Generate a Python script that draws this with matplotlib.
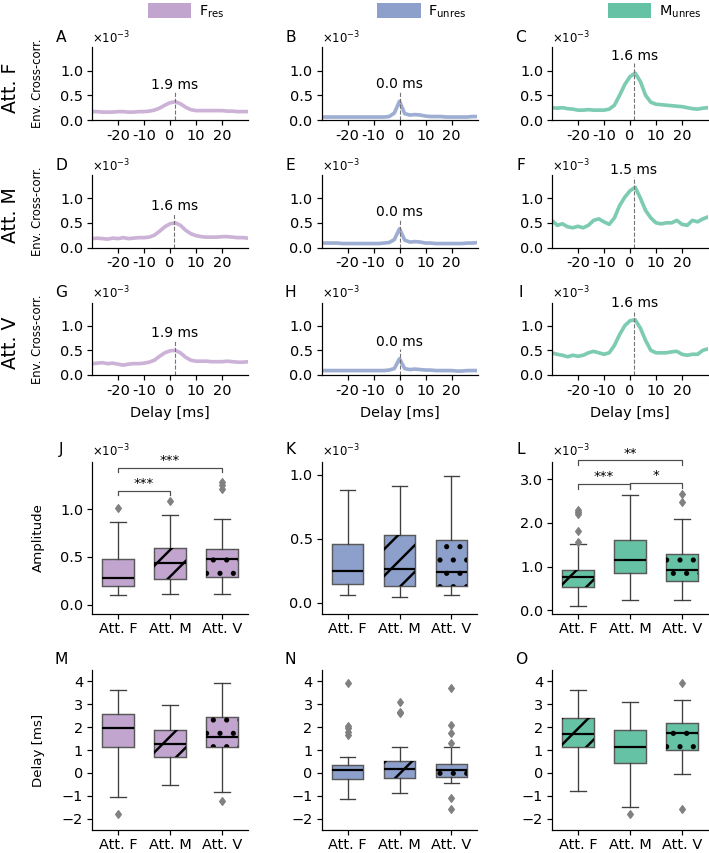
import numpy as np
import matplotlib
matplotlib.use("Agg")
import matplotlib.pyplot as plt
from matplotlib.patches import Patch, PathPatch
from matplotlib.ticker import FormatStrFormatter

# ---------------- data ----------------
voices = [r"F$_{\mathrm{res}}$", r"F$_{\mathrm{unres}}$", r"M$_{\mathrm{unres}}$"]
colors = ["#c2a5cf", "#8da0cb", "#66c2a5"]
attention = ["Att. F", "Att. M", "Att. V"]

delays = [-30, -28, -26, -24, -22, -20, -18, -16, -14, -12, -10, -8, -6, -4, -2,
          0, 2, 4, 6, 8, 10, 12, 14, 16, 18, 20, 22, 24, 26, 28, 30]
delay_ticks = [-20, -10, 0, 10, 20]
delay_ticklabels = ["-20", "-10", "0", "10", "20"]

# envelope cross-correlation (x1e-3), one list per attention condition
xcorr_fres = [
    [0.17, 0.17, 0.16, 0.16, 0.16, 0.17, 0.17, 0.16, 0.16, 0.17, 0.17, 0.18, 0.20, 0.24, 0.30,
     0.35, 0.37, 0.33, 0.26, 0.21, 0.19, 0.19, 0.19, 0.19, 0.19, 0.19, 0.18, 0.18, 0.17, 0.17, 0.17],
    [0.18, 0.19, 0.18, 0.17, 0.19, 0.18, 0.20, 0.18, 0.19, 0.20, 0.20, 0.21, 0.25, 0.33, 0.42,
     0.48, 0.50, 0.45, 0.35, 0.28, 0.24, 0.22, 0.21, 0.21, 0.21, 0.22, 0.22, 0.21, 0.20, 0.20, 0.19],
    [0.23, 0.24, 0.25, 0.23, 0.24, 0.22, 0.20, 0.22, 0.23, 0.23, 0.24, 0.26, 0.30, 0.38, 0.45,
     0.49, 0.50, 0.45, 0.36, 0.30, 0.28, 0.28, 0.28, 0.27, 0.27, 0.27, 0.28, 0.27, 0.26, 0.26, 0.27],
]
xcorr_funres = [
    [0.06, 0.06, 0.06, 0.06, 0.06, 0.06, 0.06, 0.06, 0.06, 0.06, 0.06, 0.06, 0.06, 0.07, 0.14,
     0.38, 0.13, 0.10, 0.11, 0.10, 0.08, 0.07, 0.07, 0.07, 0.06, 0.06, 0.06, 0.06, 0.06, 0.07, 0.07],
    [0.09, 0.09, 0.09, 0.09, 0.08, 0.08, 0.08, 0.08, 0.08, 0.08, 0.08, 0.08, 0.09, 0.10, 0.16,
     0.38, 0.15, 0.11, 0.12, 0.11, 0.09, 0.09, 0.08, 0.08, 0.08, 0.08, 0.08, 0.08, 0.09, 0.09, 0.10],
    [0.09, 0.09, 0.09, 0.09, 0.09, 0.09, 0.09, 0.09, 0.09, 0.09, 0.09, 0.09, 0.09, 0.10, 0.13,
     0.33, 0.13, 0.11, 0.12, 0.11, 0.10, 0.10, 0.09, 0.09, 0.09, 0.09, 0.08, 0.08, 0.09, 0.09, 0.09],
]
xcorr_munres = [
    [0.25, 0.24, 0.25, 0.23, 0.22, 0.20, 0.20, 0.21, 0.20, 0.20, 0.20, 0.22, 0.30, 0.50, 0.72,
     0.88, 0.95, 0.78, 0.50, 0.36, 0.32, 0.31, 0.30, 0.29, 0.28, 0.27, 0.25, 0.23, 0.22, 0.24, 0.25],
    [0.55, 0.45, 0.48, 0.42, 0.40, 0.43, 0.40, 0.45, 0.55, 0.58, 0.52, 0.47, 0.60, 0.85, 1.02,
     1.15, 1.22, 1.00, 0.75, 0.60, 0.50, 0.48, 0.50, 0.50, 0.55, 0.47, 0.45, 0.55, 0.52, 0.58, 0.62],
    [0.45, 0.42, 0.40, 0.37, 0.40, 0.38, 0.40, 0.45, 0.48, 0.45, 0.42, 0.45, 0.60, 0.82, 1.00,
     1.10, 1.12, 0.95, 0.70, 0.50, 0.45, 0.45, 0.45, 0.47, 0.48, 0.42, 0.40, 0.42, 0.42, 0.50, 0.53],
]
peak_fres = [1.9, 1.6, 1.9]
peak_funres = [0.0, 0.0, 0.0]
peak_munres = [1.6, 1.5, 1.6]

# amplitude box stats (x1e-3), per attention condition
amp_fres = dict(whislo=[0.10, 0.11, 0.11], q1=[0.20, 0.27, 0.29], med=[0.28, 0.44, 0.48],
                q3=[0.48, 0.59, 0.58], whishi=[0.86, 0.94, 0.90],
                fliers=[[1.01], [1.08], [1.21, 1.25, 1.28]])
amp_funres = dict(whislo=[0.057, 0.044, 0.062], q1=[0.143, 0.13, 0.127], med=[0.25, 0.263, 0.242],
                  q3=[0.46, 0.526, 0.492], whishi=[0.877, 0.909, 0.987],
                  fliers=[[], [], []])
amp_munres = dict(whislo=[0.093, 0.22, 0.23], q1=[0.53, 0.85, 0.66], med=[0.76, 1.16, 0.93],
                  q3=[0.93, 1.60, 1.28], whishi=[1.51, 2.65, 2.08],
                  fliers=[[1.57, 1.82, 2.20, 2.25, 2.30], [], [2.48, 2.67]])

# delay box stats (ms)
dly_fres = dict(whislo=[-1.07, -0.51, -0.85], q1=[1.11, 0.68, 1.11], med=[1.97, 1.26, 1.58],
                q3=[2.58, 1.86, 2.46], whishi=[3.62, 2.97, 3.93],
                fliers=[[-1.81], [], [-1.24]])
dly_funres = dict(whislo=[-1.14, -0.87, -0.46], q1=[-0.27, -0.21, -0.17], med=[0.11, 0.15, 0.11],
                  q3=[0.33, 0.51, 0.40], whishi=[0.70, 1.11, 1.12],
                  fliers=[[1.65, 1.80, 1.95, 2.05, 3.93], [2.62, 2.68, 3.10],
                          [-1.57, -1.09, 1.31, 1.74, 2.10, 3.72]])
dly_munres = dict(whislo=[-0.80, -1.48, -0.06], q1=[1.11, 0.43, 0.98], med=[1.68, 1.11, 1.76],
                  q3=[2.39, 1.86, 2.16], whishi=[3.62, 3.10, 3.17],
                  fliers=[[], [-1.81], [-1.58, 3.93]])

amp_sig = [[(0, 1, "***"), (0, 2, "***")], [], [(0, 1, "***"), (1, 2, "*"), (0, 2, "**")]]
hatches = [["", "/", "."], ["", "/", "."], ["/", "", "."]]

xcorr = [xcorr_fres, xcorr_funres, xcorr_munres]
peaks = [peak_fres, peak_funres, peak_munres]
amps = [amp_fres, amp_funres, amp_munres]
dlys = [dly_fres, dly_funres, dly_munres]

# ---------------- layout ----------------
W, H, DPI = 709, 853, 80
plt.rcParams.update({
    "font.family": "DejaVu Sans",
    "axes.linewidth": 1.1,
    "xtick.major.size": 4.5, "ytick.major.size": 4.5,
    "xtick.major.width": 1.1, "ytick.major.width": 1.1,
    "xtick.labelsize": 13, "ytick.labelsize": 13,
    "hatch.linewidth": 2.2,
})
fig = plt.figure(figsize=(W / DPI, H / DPI), dpi=DPI)


def add_ax(left, top, width, height):
    ax = fig.add_axes([left / W, 1 - (top + height) / H, width / W, height / H])
    ax.spines[["top", "right"]].set_visible(False)
    return ax


def exp_label(ax):
    ax.text(0.0, 1.015, r"$\times10^{-3}$", transform=ax.transAxes,
            ha="left", va="bottom", fontsize=10.5)


col_left = [92, 321.5, 552]
ax_w = 156
line_top = [47.5, 175, 302.5]
line_h = 72.5
letters = "ABCDEFGHIJKLMNO"

for r in range(3):
    fig.text(11 / W, 1 - (line_top[r] + line_h / 2 + 4) / H, attention[r],
             rotation=90, ha="center", va="center", fontsize=17)
    for c in range(3):
        ax = add_ax(col_left[c], line_top[r], ax_w, line_h)
        y = np.array(xcorr[c][r])
        ax.plot(delays, y, color=colors[c], lw=3.3, alpha=0.85, solid_capstyle="round")
        pk = peaks[c][r]
        top = y.max() + 0.2
        ax.plot([pk, pk], [0, top], ls="--", color="0.45", lw=1)
        ax.text(pk, top, f"{pk:.1f} ms", ha="center", va="bottom", fontsize=12.5)
        ax.set_xlim(-30, 30)
        ax.set_ylim(0, 1.47)
        ax.set_xticks(delay_ticks)
        ax.set_xticklabels(delay_ticklabels)
        ax.set_yticks([0, 0.5, 1.0])
        ax.yaxis.set_major_formatter(FormatStrFormatter("%.1f"))
        exp_label(ax)
        fig.text((col_left[c] - 31) / W, 1 - (line_top[r] - 10) / H, letters[r * 3 + c],
                 ha="center", va="center", fontsize=14)
        if c == 0:
            ax.set_ylabel("Env. Cross-corr.", fontsize=10.5)
            ax.yaxis.set_label_coords(-0.31, 0.5)
        if r == 2:
            ax.set_xlabel("Delay [ms]", fontsize=13, labelpad=7)

# box plot rows
box_top = [462, 670]
box_h = [152, 160]
amp_ylims = [(-0.094, 1.49), (-0.09, 1.10), (-0.09, 3.40)]
amp_yticks = [[0, 0.5, 1.0], [0, 0.5, 1.0], [0, 1, 2, 3]]


def draw_boxes(ax, st, c):
    stats = []
    for i in range(3):
        stats.append(dict(med=st["med"][i], q1=st["q1"][i], q3=st["q3"][i],
                          whislo=st["whislo"][i], whishi=st["whishi"][i],
                          fliers=np.array(st["fliers"][i])))
    bp = ax.bxp(stats, positions=[0, 1, 2], widths=0.6, patch_artist=True,
                boxprops=dict(facecolor=colors[c], edgecolor="0.35", linewidth=1.3),
                medianprops=dict(color="black", linewidth=2),
                whiskerprops=dict(color="0.25", linewidth=1.2),
                capprops=dict(color="0.25", linewidth=1.2),
                flierprops=dict(marker="d", markerfacecolor="0.5", markeredgecolor="0.5",
                                markersize=5.5))
    for patch, h in zip(bp["boxes"], hatches[c]):
        if h:
            ax.add_patch(PathPatch(patch.get_path(), facecolor="none", edgecolor="black",
                                   linewidth=0, hatch=h, zorder=patch.get_zorder() + 0.1))
    ax.set_xlim(-0.5, 2.5)
    ax.set_xticks([0, 1, 2])
    ax.set_xticklabels(attention)
    ax.tick_params(axis="x", pad=2.5)


for c in range(3):
    # amplitude
    ax = add_ax(col_left[c], box_top[0], ax_w, box_h[0])
    st = amps[c]
    draw_boxes(ax, st, c)
    lo, hi = amp_ylims[c]
    ax.set_ylim(lo, hi)
    ax.set_yticks(amp_yticks[c])
    ax.yaxis.set_major_formatter(FormatStrFormatter("%.1f"))
    exp_label(ax)
    yr = hi - lo
    tops = [max([st["whishi"][i]] + st["fliers"][i]) for i in range(3)]
    done = []
    for i, j, lab in amp_sig[c]:
        y = max(tops[i:j + 1]) + 0.07 * yr
        for (pi, pj, py) in done:
            if pi >= i and pj <= j and (pj - pi) < (j - i):
                y = max(y, py + 0.15 * yr)
        done.append((i, j, y))
        ax.plot([i, i, j, j], [y - 0.03 * yr, y, y, y - 0.03 * yr], color="0.3",
                lw=1.1, clip_on=False)
        ax.text((i + j) / 2, y + 0.005 * yr, lab, ha="center", va="bottom", fontsize=12)
    fig.text((col_left[c] - 31) / W, 1 - (box_top[0] - 12) / H, letters[9 + c],
             ha="center", va="center", fontsize=14)
    if c == 0:
        ax.set_ylabel("Amplitude", fontsize=12)
        ax.yaxis.set_label_coords(-0.30, 0.5)

    # delay
    ax = add_ax(col_left[c], box_top[1], ax_w, box_h[1])
    draw_boxes(ax, dlys[c], c)
    ax.set_ylim(-2.5, 4.5)
    ax.set_yticks([-2, -1, 0, 1, 2, 3, 4])
    fig.text((col_left[c] - 31) / W, 1 - (box_top[1] - 10) / H, letters[12 + c],
             ha="center", va="center", fontsize=14)
    if c == 0:
        ax.set_ylabel("Delay [ms]", fontsize=12)
        ax.yaxis.set_label_coords(-0.30, 0.5)

# legend, one entry above each column
for c in range(3):
    fig.legend(handles=[Patch(facecolor=colors[c], edgecolor="none")], labels=[voices[c]],
               loc="upper left", bbox_to_anchor=((col_left[c] + 56) / W, 1 - 3 / H),
               frameon=False, borderpad=0, borderaxespad=0, handlelength=3.0,
               handleheight=1.2, handletextpad=0.5, fontsize=13)

fig.savefig("out.png", dpi=DPI)
